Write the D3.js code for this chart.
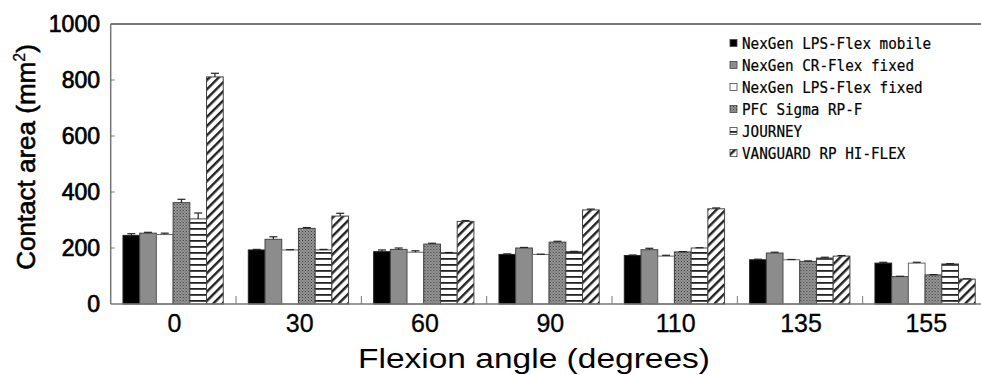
<!DOCTYPE html>
<html>
<head>
<meta charset="utf-8">
<script src="https://cdn.jsdelivr.net/npm/d3@7"></script>
<style>
  body { margin: 0; background: #fff; }
  svg { display: block; }
</style>
</head>
<body>
<svg id="chart" width="981" height="375"></svg>
<script>
// flexion angles (x categories)
var angles = ["0", "30", "60", "90", "110", "135", "155"];
var seriesNames = ["NexGen LPS-Flex mobile", "NexGen CR-Flex fixed", "NexGen LPS-Flex fixed", "PFC Sigma RP-F", "JOURNEY", "VANGUARD RP HI-FLEX"];

// contact area means (mm2), one array per implant
var lpsFlexMobile = [245, 193, 187, 177, 173, 158, 146];
var crFlexFixed   = [253, 231, 195, 200, 194, 182, 98];
var lpsFlexFixed  = [248, 193, 185, 177, 171, 158, 146];
var pfcSigma      = [362, 270, 214, 221, 186, 152, 104];
var journey       = [304, 193, 183, 187, 200, 164, 143];
var vanguard      = [811, 314, 295, 336, 340, 171, 89];

// error bar heights (SD)
var lpsFlexMobileErr = [6, 2, 6, 2, 2, 2, 3];
var crFlexFixedErr   = [3, 9, 5, 2, 5, 3, 1];
var lpsFlexFixedErr  = [5, 1, 5, 1, 3, 1, 3];
var pfcSigmaErr      = [12, 3, 3, 3, 1, 2, 1];
var journeyErr       = [21, 2, 1, 1, 1, 3, 1];
var vanguardErr      = [13, 10, 3, 3, 3, 2, 1];

var yTicks = [0, 200, 400, 600, 800, 1000];

var allValues = [lpsFlexMobile, crFlexFixed, lpsFlexFixed, pfcSigma, journey, vanguard];
var allErrors = [lpsFlexMobileErr, crFlexFixedErr, lpsFlexFixedErr, pfcSigmaErr, journeyErr, vanguardErr];

var svg = d3.select("#chart");
var plotLeft = 110.7, plotTop = 24, plotBottom = 304, plotRight = 988;

var x = d3.scaleBand().domain(angles).range([plotLeft, plotRight]).paddingInner(0).paddingOuter(0);
var xInner = d3.scaleBand().domain(d3.range(seriesNames.length))
    .range([x.bandwidth() * 0.098, x.bandwidth() * 0.898]).padding(0);
var y = d3.scaleLinear().domain([0, 1000]).range([plotBottom, plotTop]);

// fill patterns
var defs = svg.append("defs");
var dots = defs.append("pattern").attr("id", "patDots").attr("patternUnits", "userSpaceOnUse")
    .attr("width", 3).attr("height", 3);
dots.append("rect").attr("width", 3).attr("height", 3).attr("fill", "#9a9a9a");
dots.append("rect").attr("x", 0).attr("y", 0).attr("width", 1).attr("height", 1).attr("fill", "#333");
dots.append("rect").attr("x", 1.5).attr("y", 1.5).attr("width", 1).attr("height", 1).attr("fill", "#444");

var hlines = defs.append("pattern").attr("id", "patHLines").attr("patternUnits", "userSpaceOnUse")
    .attr("width", 6).attr("height", 6);
hlines.append("rect").attr("width", 6).attr("height", 6).attr("fill", "#fff");
hlines.append("rect").attr("x", 0).attr("y", 0).attr("width", 6).attr("height", 1.8).attr("fill", "#222");

var diag = defs.append("pattern").attr("id", "patDiag").attr("patternUnits", "userSpaceOnUse")
    .attr("width", 6.5).attr("height", 6.5).attr("patternTransform", "rotate(45)");
diag.append("rect").attr("width", 6.5).attr("height", 6.5).attr("fill", "#fff");
diag.append("rect").attr("x", 0).attr("y", 0).attr("width", 2.4).attr("height", 6.5).attr("fill", "#222");

var fills = ["#000", "#8c8c8c", "#fff", "url(#patDots)", "url(#patHLines)", "url(#patDiag)"];
var strokes = ["#222", "#444", "#666", "#444", "#444", "#444"];

// frame
svg.append("line").attr("x1", plotLeft).attr("x2", 981).attr("y1", plotTop).attr("y2", plotTop)
    .attr("stroke", "#777").attr("stroke-width", 2);
svg.append("line").attr("x1", plotLeft).attr("x2", plotLeft).attr("y1", plotTop).attr("y2", plotBottom)
    .attr("stroke", "#777").attr("stroke-width", 1.5);

// y ticks (inward)
svg.selectAll(".ytick").data(yTicks.slice(1, -1)).enter().append("line")
    .attr("x1", plotLeft).attr("x2", plotLeft + 4)
    .attr("y1", function (d) { return y(d); }).attr("y2", function (d) { return y(d); })
    .attr("stroke", "#777").attr("stroke-width", 1);
svg.selectAll(".ylab").data(yTicks).enter().append("text")
    .attr("x", 100).attr("y", function (d) { return y(d) + 8; })
    .attr("text-anchor", "end")
    .attr("font-family", "Liberation Sans, Arial, sans-serif").attr("font-size", 23)
    .attr("fill", "#000").attr("stroke", "#000").attr("stroke-width", 0.7)
    .text(function (d) { return d; });

// x group separators
svg.selectAll(".xsep").data(angles.slice(1)).enter().append("line")
    .attr("x1", function (d) { return x(d); }).attr("x2", function (d) { return x(d); })
    .attr("y1", plotBottom).attr("y2", plotBottom - 8)
    .attr("stroke", "#777").attr("stroke-width", 1);

// bars
var groups = svg.selectAll(".grp").data(angles).enter().append("g")
    .attr("transform", function (d) { return "translate(" + x(d) + ",0)"; });

seriesNames.forEach(function (name, s) {
    groups.append("rect")
        .attr("x", xInner(s))
        .attr("y", function (d, i) { return y(allValues[s][i]); })
        .attr("width", xInner.bandwidth())
        .attr("height", function (d, i) { return plotBottom - y(allValues[s][i]); })
        .attr("fill", fills[s]).attr("stroke", strokes[s]).attr("stroke-width", 1);
    // error bars
    groups.append("line")
        .attr("x1", xInner(s) + xInner.bandwidth() / 2).attr("x2", xInner(s) + xInner.bandwidth() / 2)
        .attr("y1", function (d, i) { return y(allValues[s][i]); })
        .attr("y2", function (d, i) { return y(allValues[s][i] + allErrors[s][i]); })
        .attr("stroke", "#222").attr("stroke-width", 1.2);
    groups.append("line")
        .attr("x1", xInner(s) + xInner.bandwidth() / 2 - 4).attr("x2", xInner(s) + xInner.bandwidth() / 2 + 4)
        .attr("y1", function (d, i) { return y(allValues[s][i] + allErrors[s][i]); })
        .attr("y2", function (d, i) { return y(allValues[s][i] + allErrors[s][i]); })
        .attr("stroke", "#222").attr("stroke-width", 1.2);
});

// baseline
svg.append("line").attr("x1", plotLeft).attr("x2", 981).attr("y1", plotBottom).attr("y2", plotBottom)
    .attr("stroke", "#777").attr("stroke-width", 1.5);

// x tick labels
svg.selectAll(".xlab").data(angles).enter().append("text")
    .attr("x", function (d) { return x(d) + x.bandwidth() / 2 + 1; })
    .attr("y", 332)
    .attr("text-anchor", "middle")
    .attr("font-family", "Liberation Sans, Arial, sans-serif").attr("font-size", 25)
    .attr("fill", "#000").attr("stroke", "#000").attr("stroke-width", 0.3)
    .text(function (d) { return d; });

// axis titles
svg.append("text").attr("x", 534).attr("y", 368).attr("text-anchor", "middle")
    .attr("font-family", "Liberation Sans, Arial, sans-serif").attr("font-size", 27)
    .attr("textLength", 352).attr("lengthAdjust", "spacingAndGlyphs")
    .text("Flexion angle (degrees)");

var yTitle = svg.append("text").attr("transform", "translate(35,157) rotate(-90)")
    .attr("text-anchor", "middle")
    .attr("font-family", "Liberation Sans, Arial, sans-serif").attr("font-size", 26)
    .attr("stroke", "#000").attr("stroke-width", 0.6);
yTitle.append("tspan").text("Contact area (mm");
yTitle.append("tspan").attr("font-size", 16).attr("dy", -10).attr("stroke-width", 0.3).text("2");
yTitle.append("tspan").attr("dy", 10).text(")");

// legend
var legend = svg.selectAll(".leg").data(seriesNames).enter().append("g")
    .attr("transform", function (d, i) { return "translate(730," + (43 + i * 22) + ")"; });
legend.append("rect").attr("x", 0).attr("y", -3.5).attr("width", 7).attr("height", 7)
    .attr("fill", function (d, i) { return fills[i]; })
    .attr("stroke", "#444").attr("stroke-width", 0.8);
legend.append("text").attr("x", 12).attr("y", 5.5)
    .attr("font-family", "DejaVu Sans Mono, monospace").attr("font-size", 15)
    .attr("textLength", 8.6).attr("fill", "#000").attr("stroke", "#000").attr("stroke-width", 0.2)
    .attr("textLength", function (d) { return d.length * 8.6; })
    .attr("lengthAdjust", "spacingAndGlyphs")
    .text(function (d) { return d; });
</script>
</body>
</html>
